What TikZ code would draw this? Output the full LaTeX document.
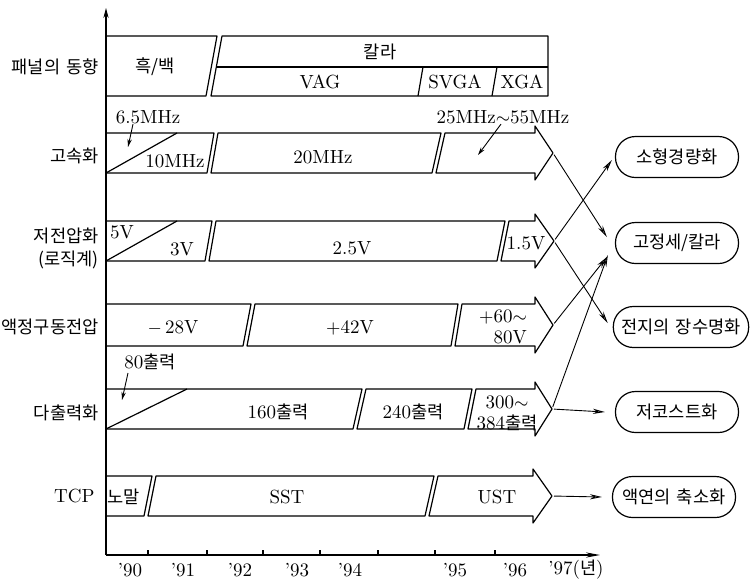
\documentclass[tikz,border=0pt]{standalone}
\usepackage{fontspec}
\newfontfamily\kr{Noto Sans CJK KR}
\usetikzlibrary{arrows.meta}
\newcommand\krt[1]{{\fontsize{8.8}{10}\selectfont\kr #1}}
\tikzset{
  bar/.style={draw=black, line width=0.6pt, line join=round},
  lbl/.style={font=\fontsize{9.5}{10.5}\selectfont, inner sep=0pt, align=center},
  krl/.style={font=\fontsize{8.8}{11.5}\selectfont\kr, inner sep=0pt, align=center},
  rowl/.style={krl, anchor=east, align=right},
  goal/.style={draw, line width=0.6pt, rounded corners=10pt, minimum height=20.5pt,
               minimum width=61.5pt, inner xsep=4pt, font=\fontsize{8.8}{10}\selectfont\kr},
  arr/.style={-{Stealth[length=6pt,width=2.6pt,fill=gray!55]}, line width=0.45pt, shorten <=1pt},
  tip/.style={-{Stealth[length=4pt,width=2.2pt]}, line width=0.45pt},
}
\begin{document}
\begin{tikzpicture}[x=0.5pt, y=-0.5pt]
  \useasboundingbox (0,0) rectangle (752,586);
  % axes
  \coordinate (o) at (106,555);
  \draw[line width=0.6pt, -{Stealth[length=5pt,width=2.6pt]}] (o) -- (106,8);
  \draw[line width=0.6pt, -{Stealth[length=7pt,width=2.6pt,fill=gray!55]}] (o) -- (600,555);
  \foreach \x in {148,207,263,320,378,435,495}
    \draw[line width=0.6pt] (\x,555) -- (\x,550);
  \foreach \x/\y/\n in {130/'90/y0,183/'91/y1,240/'92/y2,297/'93/y3,350/'94/y4,455/'95/y5,515/'96/y6}
    \node[lbl] (\n) at (\x,570) {\y};
  \node[lbl] (y7) at (576,570) {'97(\krt{년})};

  % row labels
  \node[rowl] (panel) at (99,67) {패널의\hspace{3pt}동향};
  \node[rowl] (speed) at (99,156) {고속화};
  \node[rowl] (lowv) at (99,248) {저전압화\\(로직계)};
  \node[rowl] (lcd) at (99,327) {액정구동전압};
  \node[rowl] (multi) at (99,413) {다출력화};
  \node[rowl, font=\fontsize{9.5}{10.5}\selectfont] (tcp) at (95,496) {TCP};

  % panel
  \draw[bar] (106,36) -- (217,36) -- (206,96) -- (106,96);
  \draw[bar] (222,36) -- (548,36) -- (548,96) -- (211,96) -- cycle;
  \draw[bar] (216.5,67) -- (548,67);
  \draw[bar] (423,67) -- (418,96);
  \draw[bar] (497,67) -- (492,96);
  \node[krl] (bw) at (155,67) {흑/백};
  \node[krl] (color) at (380,52) {칼라};
  \node[lbl] (vga) at (320,82) {VAG};
  \node[lbl] (svga) at (455,82) {SVGA};
  \node[lbl] (xga) at (522,82) {XGA};

  % speed
  \draw[bar] (106,133) -- (214,133) -- (207,173) -- (106,173);
  \draw[bar] (106,173) -- (177,133);
  \draw[bar] (218,133) -- (441,133) -- (432,173) -- (211,173) -- cycle;
  \draw[bar] (445,133) -- (535,133) -- (535,126) -- (553,153) coordinate (hs)
    -- (535,180) -- (535,173) -- (436,173) -- cycle;
  \node[lbl] (f65) at (148,117) {6.5MHz};
  \node[lbl] (f10) at (175,161) {10MHz};
  \node[lbl] (f20) at (323,157) {20MHz};
  \node[lbl] (f55) at (503,117) {25MHz$\sim$55MHz};
  \coordinate (f65p) at (128,147);
  \coordinate (f55p) at (478,155);
  \draw[tip] (f65.south -| 133,0) -- (f65p);
  \draw[tip] ([xshift=-1pt]f55.south) -- (f55p);

  % low voltage
  \draw[bar] (106,221) -- (212,221) -- (205,261) -- (106,261);
  \draw[bar] (106,261) -- (177,221);
  \draw[bar] (216,221) -- (505,221) -- (497,261) -- (209,261) -- cycle;
  \draw[bar] (509,221) -- (535,221) -- (535,214) -- (554,241) coordinate (lv)
    -- (535,268) -- (535,261) -- (501,261) -- cycle;
  \node[lbl] (v5) at (122,232) {5V};
  \node[lbl] (v3) at (182,249) {3V};
  \node[lbl] (v25) at (352,248) {2.5V};
  \node[lbl] (v15) at (526,243) {1.5V};

  % lcd drive
  \draw[bar] (106,304) -- (251,304) -- (243,346) -- (106,346);
  \draw[bar] (255,304) -- (458,304) -- (451,346) -- (247,346) -- cycle;
  \draw[bar] (462,304) -- (535,304) -- (535,297) -- (553,325) coordinate (ld)
    -- (535,353) -- (535,346) -- (455,346) -- cycle;
  \node[lbl] (m28) at (173,328) {$-$\,28V};
  \node[lbl] (p42) at (350,328) {$+$42V};
  \node[lbl, align=right] (p60) at (503,327) {$+$60$\sim$\\80V};

  % multi output
  \draw[bar] (106,389) -- (362,389) -- (353,429) -- (106,429);
  \draw[bar] (106,429) -- (187,389);
  \draw[bar] (366,389) -- (472,389) -- (464,429) -- (357,429) -- cycle;
  \draw[bar] (476,389) -- (535,389) -- (535,382) -- (552,409) coordinate (mo)
    -- (535,436) -- (535,429) -- (468,429) -- cycle;
  \node[lbl] (o80) at (150,362) {80\krt{출력}};
  \coordinate (o80p) at (122,400);
  \draw[tip] (128,373) -- (o80p);
  \node[lbl] (o160) at (278,412) {160\krt{출력}};
  \node[lbl] (o240) at (413,412) {240\krt{출력}};
  \node[lbl] (o300) at (507,413) {300$\sim$\\384\krt{출력}};

  % tcp
  \draw[bar] (106,476) -- (152,476) -- (144,516) -- (106,516);
  \draw[bar] (156,476) -- (434,476) -- (425,516) -- (148,516) -- cycle;
  \draw[bar] (438,476) -- (533,476) -- (533,469) -- (552,496) coordinate (tc)
    -- (533,523) -- (533,516) -- (429,516) -- cycle;
  \node[krl] (normal) at (124,497) {노말};
  \node[lbl] (sst) at (287,497) {SST};
  \node[lbl] (ust) at (497,497) {UST};

  % goals
  \node[goal] (small) at (677,157) {소형경량화};
  \node[goal] (fine) at (677,243) {고정세/칼라};
  \node[goal, minimum width=66pt] (batt) at (681,327) {전지의\hspace{3pt}장수명화};
  \node[goal] (cost) at (677,412) {저코스트화};
  \node[goal] (shrink) at (674,497) {액연의\hspace{3pt}축소화};

  % connectors
  \draw[arr] (hs) -- ([xshift=-4pt,yshift=3pt]fine.west);
  \draw[arr] (lv) -- ([xshift=-1.5pt,yshift=-1.5pt]small.west);
  \draw[arr] (lv) -- ([xshift=-2.5pt,yshift=2pt]batt.west);
  \draw[arr] (ld) -- ([xshift=-4pt,yshift=-7pt]fine.west);
  \draw[arr] (mo) -- ([xshift=-3.5pt,yshift=-6pt]fine.west);
  \draw[arr] (mo) -- ([xshift=-5pt]cost.west);
  \draw[arr] (tc) -- ([xshift=-5pt]shrink.west);
\end{tikzpicture}
\end{document}
